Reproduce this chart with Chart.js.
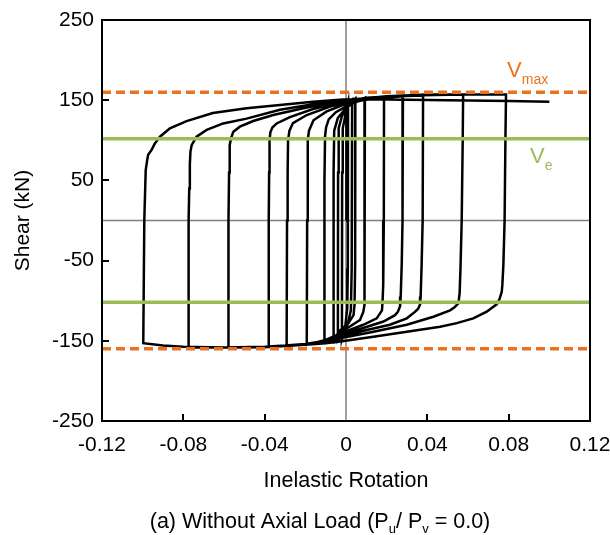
<!DOCTYPE html>
<html>
<head>
<meta charset="utf-8">
<script src="https://cdn.jsdelivr.net/npm/chart.js@4.4.1/dist/chart.umd.min.js"></script>
<style>
    html, body { margin: 0; padding: 0; background: #fff; }
    #chart { display: block; }
</style>
</head>
<body>
<canvas id="chart" width="610" height="535"></canvas>
<script>
const xTicks = [-0.12, -0.08, -0.04, 0, 0.04, 0.08, 0.12];
const yTicks = [-250, -150, -50, 50, 150, 250];
const vMax = 160;
const vE = 102;

// hysteresis path, one line per half cycle
const rotation = [
    0, 0, 0.0004, 0.001,
    0.0009, 0.0006, -0.0005, -0.002,
    -0.0019, -0.0016, 0, 0.0015, 0.003,
    0.0028, 0.0024, 0.001, -0.0015, -0.004,
    -0.0039, -0.0036, -0.002, 0.001, 0.0046,
    0.0045, 0.0042, 0.0037, 0.0012, -0.0029, -0.0062,
    -0.0061, -0.0058, -0.004, 0, 0.004, 0.0093,
    0.0092, 0.009, 0.0085, 0.0069, 0.002, -0.0029, -0.007, -0.0107,
    -0.0106, -0.0103, -0.0098, -0.0085, -0.005, 0, 0.006, 0.0187,
    0.0186, 0.0183, 0.018, 0.0177, 0.0151, 0.0085, -0.0029, -0.01, -0.0193,
    -0.0191, -0.0189, -0.0187, -0.0182, -0.016, -0.0095, -0.0015, 0.01, 0.028,
    0.0278, 0.0274, 0.0269, 0.0266, 0.0255, 0.0241, 0.0184, 0.0085, -0.0029, -0.01, -0.02, -0.0292,
    -0.029, -0.0287, -0.0285, -0.0278, -0.0261, -0.0193, -0.0079, -0.0015, 0.01, 0.025, 0.0379,
    0.0377, 0.0372, 0.0367, 0.0364, 0.0355, 0.0339, 0.0299, 0.0216, 0.0102, -0.0029, -0.01, -0.02, -0.03, -0.0382,
    -0.038, -0.0378, -0.0376, -0.0372, -0.0362, -0.0341, -0.0276, -0.0162, -0.0015, 0.01, 0.03, 0.0576,
    0.0574, 0.0569, 0.0563, 0.0559, 0.0553, 0.0535, 0.0512, 0.043, 0.0299, 0.0135, -0.0029, -0.01, -0.02, -0.04, -0.0579,
    -0.0578, -0.0575, -0.0573, -0.0571, -0.0565, -0.0554, -0.0522, -0.0456, -0.0358, -0.021, -0.0015, 0.02, 0.04, 0.0787,
    0.0784, 0.078, 0.0774, 0.0769, 0.0766, 0.0755, 0.0741, 0.0692, 0.0626, 0.0545, 0.0463, 0.0299, 0.0135, -0.0029, -0.01, -0.02, -0.04, -0.06, -0.0775,
    -0.0774, -0.0771, -0.0768, -0.0765, -0.0759, -0.0735, -0.0685, -0.0604, -0.0489, -0.0325, -0.0162, -0.0015, 0.02, 0.04, 0.0787,
    0.0784, 0.078, 0.0774, 0.0769, 0.0766, 0.0755, 0.0741, 0.0692, 0.0626, 0.0545, 0.0463, 0.0299, 0.0135, -0.0029, -0.01, -0.02, -0.04, -0.06, -0.08, -0.09, -0.0997,
    -0.0992, -0.0985, -0.0978, -0.0973, -0.0956, -0.094, -0.0915, -0.0866, -0.0784, -0.0655, -0.0489, -0.0325, -0.0162, -0.0015, 0.02, 0.05, 0.08, 0.1,
];
const shear = [
    0, 100, 140, 148,
    -60, -110, -135, -148,
    60, 115, 135, 145, 150,
    -60, -112, -128, -142, -150,
    60, 115, 130, 143, 152,
    -55, -105, -118, -128, -137, -152,
    60, 112, 128, 140, 148, 153,
    -55, -105, -114, -124, -132, -139, -148, -153,
    50, 105, 116, 126, 135, 142, 149, 154,
    0, -80, -100, -112, -122, -130, -141, -149, -155,
    0, 60, 100, 112, 125, 136, 144, 151, 155,
    0, -55, -95, -107, -114, -118, -126, -134, -143, -150, -154, -156,
    0, 60, 100, 112, 121.5, 131.5, 142, 146, 151, 155, 156,
    0, -55, -95, -105, -110, -114, -122, -130, -136.5, -145, -150, -154, -156, -157,
    0, 60, 100, 110, 116, 121, 129, 139, 148, 153, 156, 157,
    100, 0, -60, -90, -103, -108, -112, -120, -130, -138.6, -147, -152, -155, -158, -158.5,
    0, 60, 85, 94, 103, 110.7, 117, 124, 131.5, 140, 150, 155, 157, 157,
    100, 0, -55, -80, -89, -98, -104.5, -113.7, -122, -128, -132.4, -138.7, -145, -151, -153, -155, -157.5, -158.5, -158.5,
    0, 40, 70, 86, 94, 104.5, 113, 121, 127, 138, 145, 150, 155, 157, 157,
    100, 0, -55, -80, -89, -98, -104.5, -113.7, -122, -128, -132.4, -138.7, -145, -151, -153, -155, -157.5, -158.5, -157.5, -156, -153,
    0, 63, 75, 82, 88, 96, 104.5, 115, 124, 134, 140, 144, 148, 151, 151, 150, 149, 148,
];

const ORANGE = "#E8731E";
const GREEN = "#9BBB59";
const FONT = "'Liberation Sans', Arial, sans-serif";

Chart.defaults.font.family = FONT;
Chart.defaults.color = "#000";

function hline(value, color, width, dash) {
    return {
        data: [{ x: xTicks[0], y: value }, { x: xTicks[xTicks.length - 1], y: value }],
        showLine: true,
        borderColor: color,
        borderWidth: width,
        borderDash: dash || [],
        pointRadius: 0,
        order: 0,
    };
}

// text with optional subscript pieces
function drawParts(ctx, parts, x, y, align) {
    const widths = parts.map((p) => {
        ctx.font = `${p.size}px ${FONT}`;
        return ctx.measureText(p.text).width;
    });
    const total = widths.reduce((s, w) => s + w, 0);
    let cx = align === "center" ? x - total / 2 : x;
    parts.forEach((p, i) => {
        ctx.font = `${p.size}px ${FONT}`;
        ctx.fillText(p.text, cx, y + (p.dy || 0));
        cx += widths[i];
    });
}

const framePlugin = {
    id: "frame",
    afterDatasetsDraw(chart) {
        const { ctx, chartArea: a, scales } = chart;
        const xs = scales.x;
        const ys = scales.y;
        ctx.save();
        ctx.strokeStyle = "#000";
        ctx.lineWidth = 2;
        ctx.strokeRect(a.left, a.top, a.right - a.left, a.bottom - a.top);

        ctx.beginPath();
        xTicks.slice(1, -1).filter((v) => v !== 0).forEach((v) => {
            const px = Math.round(xs.getPixelForValue(v));
            ctx.moveTo(px, a.bottom);
            ctx.lineTo(px, a.bottom - 7);
        });
        yTicks.slice(1, -1).forEach((v) => {
            const py = Math.round(ys.getPixelForValue(v));
            ctx.moveTo(a.left, py);
            ctx.lineTo(a.left + 7, py);
        });
        ctx.stroke();

        ctx.textBaseline = "alphabetic";
        ctx.textAlign = "left";
        ctx.fillStyle = ORANGE;
        drawParts(ctx, [
            { text: "V", size: 22 },
            { text: "max", size: 14, dy: 7 },
        ], xs.getPixelForValue(0.0792), ys.getPixelForValue(179), "left");

        ctx.fillStyle = GREEN;
        drawParts(ctx, [
            { text: "V", size: 22 },
            { text: "e", size: 14, dy: 7 },
        ], xs.getPixelForValue(0.0905), ys.getPixelForValue(72), "left");

        ctx.fillStyle = "#000";
        drawParts(ctx, [
            { text: "(a) Without Axial Load (P", size: 21.5 },
            { text: "u", size: 13, dy: 5 },
            { text: "/ P", size: 21.5 },
            { text: "v", size: 13, dy: 5 },
            { text: " = 0.0)", size: 21.5 },
        ], 320, 528, "center");
        ctx.restore();
    },
};

new Chart(document.getElementById("chart"), {
    type: "scatter",
    data: {
        datasets: [
            hline(vMax, ORANGE, 3.5, [9, 5]),
            hline(-vMax, ORANGE, 3.5, [9, 5]),
            hline(vE, GREEN, 3.5),
            hline(-vE, GREEN, 3.5),
            {
                data: rotation.map((r, i) => ({ x: r, y: shear[i] })),
                showLine: true,
                borderColor: "#000",
                borderWidth: 2.5,
                pointRadius: 0,
                tension: 0,
                order: 1,
            },
            { ...hline(0, "#808080", 1.5), order: 2 },
            {
                data: [{ x: 0, y: yTicks[0] }, { x: 0, y: yTicks[yTicks.length - 1] }],
                showLine: true,
                borderColor: "#808080",
                borderWidth: 1.5,
                pointRadius: 0,
                order: 2,
            },
        ],
    },
    options: {
        responsive: false,
        animation: false,
        events: [],
        layout: { padding: { left: 0, right: 20, top: 20, bottom: 0 } },
        plugins: {
            legend: { display: false },
            tooltip: { enabled: false },
        },
        scales: {
            x: {
                type: "linear",
                min: xTicks[0],
                max: xTicks[xTicks.length - 1],
                afterBuildTicks: (s) => { s.ticks = xTicks.map((v) => ({ value: v })); },
                afterFit: (s) => { s.height = 114; s.paddingLeft = 0; s.paddingRight = 0; },
                grid: { display: false, drawTicks: false },
                border: { display: false },
                ticks: {
                    padding: 12,
                    maxRotation: 0,
                    autoSkip: false,
                    font: { size: 21 },
                    callback: (v) => (Math.abs(v) < 1e-9 ? "0" : v.toFixed(2)),
                },
                title: {
                    display: true,
                    text: "Inelastic Rotation",
                    font: { size: 21.5 },
                    padding: { top: 0, bottom: 41 },
                },
            },
            y: {
                type: "linear",
                min: yTicks[0],
                max: yTicks[yTicks.length - 1],
                afterBuildTicks: (s) => { s.ticks = yTicks.map((v) => ({ value: v })); },
                afterFit: (s) => { s.width = 102; s.paddingTop = 0; s.paddingBottom = 0; },
                grid: { display: false, drawTicks: false },
                border: { display: false },
                ticks: { padding: 8, font: { size: 21 } },
                title: {
                    display: true,
                    text: "Shear (kN)",
                    font: { size: 21 },
                    padding: { top: 11, bottom: 0 },
                },
            },
        },
    },
    plugins: [framePlugin],
});
</script>
</body>
</html>
